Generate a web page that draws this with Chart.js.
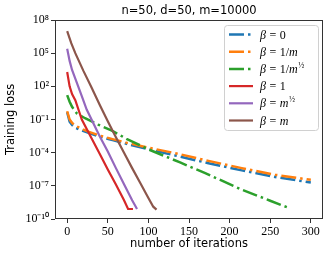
<!DOCTYPE html>
<html>
<head>
<meta charset="utf-8">
<script src="https://cdn.jsdelivr.net/npm/chart.js@4.4.1/dist/chart.umd.min.js"></script>
<style>
    html, body { margin: 0; padding: 0; background: #fff; }
    #wrap { width: 332px; height: 257px; }
</style>
</head>
<body>
<div id="wrap"><canvas id="loss-chart"></canvas></div>
<script>
const xTicks = [0, 50, 100, 150, 200, 250, 300];
const yTicks = [1e8, 1e5, 1e2, 1e-1, 1e-4, 1e-7, 1e-10];
const yTickLabels = ['10⁸', '10⁵', '10²', '10⁻¹', '10⁻⁴', '10⁻⁷', '10⁻¹⁰'];

const betaLabels = ['β = 0', 'β = 1/m', 'β = 1/m½', 'β = 1', 'β = m½', 'β = m'];
const betaColors = ['#1f77b4', '#ff7f0e', '#2ca02c', '#d62728', '#9467bd', '#8c564b'];

// beta = 0
const iterB0 = [0, 3, 6, 10, 18, 28, 40, 57, 73, 100, 133, 174, 215, 256, 300];
const lossB0 = [0.45, 6.3e-2, 3.2e-2, 1.8e-2, 1e-2, 5.6e-3, 2.8e-3, 1.3e-3, 6.3e-4, 2e-4, 5.6e-5, 1.1e-5, 2.5e-6, 6.3e-7, 2e-7];
// beta = 1/m
const iterB1 = [0, 3, 6, 10, 18, 26, 40, 57, 73, 100, 133, 174, 215, 256, 300];
const lossB1 = [0.56, 0.1, 5e-2, 2.8e-2, 1.4e-2, 8e-3, 3.5e-3, 1.6e-3, 8e-4, 2.8e-4, 9e-5, 1.8e-5, 4e-6, 1e-6, 3.5e-7];
// beta = 1/sqrt(m)
const iterB2 = [0, 3, 6, 12, 22, 38, 55, 73, 100, 139, 170, 215, 250, 273];
const lossB2 = [16, 4, 1.4, 0.35, 0.13, 3.5e-2, 1e-2, 1.8e-3, 2e-4, 1.3e-5, 1.4e-6, 4.5e-8, 4.5e-9, 1e-9];
// beta = 1
const iterB3 = [0, 3, 6, 10, 18, 30, 40, 50, 60, 70, 75, 81];
const lossB3 = [2e3, 1e2, 2e1, 5.6, 0.1, 2e-3, 8e-5, 3e-6, 1.3e-7, 5e-9, 8e-10, 8e-10];
// beta = sqrt(m)
const iterB4 = [0, 3, 6, 10, 18, 24, 30, 40, 50, 60, 70, 80, 86];
const lossB4 = [2.5e5, 2e4, 3e3, 5e2, 13, 0.8, 0.1, 3e-3, 1.3e-4, 4e-6, 1.4e-7, 5e-9, 8e-10];
// beta = m
const iterB5 = [0, 5, 10, 20, 30, 40, 50, 60, 70, 80, 90, 100, 106, 110];
const lossB5 = [1e7, 8e5, 1e5, 2.5e3, 80, 2.2, 7e-2, 2.5e-3, 1e-4, 4e-6, 1.8e-7, 8e-9, 1.3e-9, 7e-10];

const iters = [iterB0, iterB1, iterB2, iterB3, iterB4, iterB5];
const losses = [lossB0, lossB1, lossB2, lossB3, lossB4, lossB5];
const dashDot = [15, 4, 2.5, 4];

const lossChart = document.getElementById('loss-chart');

// math-ish label: beta and m italic, ½ as small superscript
function drawMathLabel(ctx, text, x, y) {
    let cx = x;
    for (const ch of text) {
        if (ch === ' ') { cx += 3.5; continue; }
        if (ch === '½') {
            ctx.font = '8px "Liberation Serif"';
            ctx.fillText('½', cx + 0.5, y - 4);
            cx += ctx.measureText('½').width + 0.5;
            continue;
        }
        ctx.font = (ch === 'β' || ch === 'm') ? 'italic 12px "Liberation Serif"' : '12px "Liberation Serif"';
        ctx.fillText(ch, cx, y);
        cx += ctx.measureText(ch).width;
    }
}

const frameAndLegend = {
    id: 'frameAndLegend',
    afterDraw(chart) {
        const ctx = chart.ctx;
        const a = chart.chartArea;
        ctx.save();
        ctx.strokeStyle = '#333';
        ctx.lineWidth = 1;
        ctx.strokeRect(a.left + 0.5, a.top + 0.5, a.right - a.left - 1, a.bottom - a.top - 1);

        ctx.fillStyle = '#000';
        ctx.font = '11.5px "DejaVu Sans"';
        ctx.textAlign = 'center';
        ctx.textBaseline = 'middle';
        ctx.fillText('n=50, d=50, m=10000', (a.left + a.right) / 2, 11);

        // legend box
        const bx = 224, by = 25, bw = 94, bh = 105;
        ctx.beginPath();
        ctx.roundRect(bx + 0.5, by + 0.5, bw, bh, 3);
        ctx.fillStyle = 'rgba(255,255,255,0.85)';
        ctx.fill();
        ctx.strokeStyle = '#d0d0d0';
        ctx.stroke();

        ctx.textAlign = 'left';
        ctx.textBaseline = 'middle';
        chart.data.datasets.forEach((ds, i) => {
            const y = by + 9.5 + i * 17.2;
            ctx.beginPath();
            ctx.strokeStyle = ds.borderColor;
            ctx.lineWidth = ds.borderWidth;
            ctx.lineCap = 'butt';
            ctx.setLineDash(ds.borderDash || []);
            ctx.moveTo(229, y);
            ctx.lineTo(253, y);
            ctx.stroke();
            ctx.setLineDash([]);
            ctx.fillStyle = '#000';
            drawMathLabel(ctx, ds.label, 260, y + 1);
        });
        ctx.restore();
    }
};

new Chart(lossChart, {
    type: 'line',
    data: {
        datasets: betaLabels.map((label, i) => ({
            label: label,
            data: iters[i].map((x, j) => ({ x: x, y: losses[i][j] })),
            borderColor: betaColors[i],
            backgroundColor: betaColors[i],
            borderWidth: i < 3 ? 2.5 : 2.2,
            borderDash: i < 3 ? dashDot : [],
            borderCapStyle: 'butt',
            pointRadius: 0,
            tension: 0,
            fill: false,
            order: -i
        }))
    },
    options: {
        responsive: true,
        maintainAspectRatio: false,
        animation: false,
        devicePixelRatio: 1,
        layout: {
            padding: { top: 20, right: 9, left: 0, bottom: 0 }
        },
        plugins: {
            legend: { display: false },
            tooltip: { enabled: false }
        },
        scales: {
            x: {
                type: 'linear',
                min: -15,
                max: 315,
                afterBuildTicks: (scale) => { scale.ticks = xTicks.map(v => ({ value: v })); },
                afterFit: (scale) => { scale.height = 38; },
                border: { display: false },
                grid: { drawOnChartArea: false, drawTicks: true, tickLength: 4, color: '#333' },
                ticks: {
                    color: '#000',
                    padding: 2,
                    maxRotation: 0,
                    font: { family: 'Liberation Serif', size: 12 }
                },
                title: {
                    display: true,
                    text: 'number of iterations',
                    color: '#000',
                    font: { family: 'DejaVu Sans', size: 11.5 },
                    padding: { top: 0, bottom: 6 }
                }
            },
            y: {
                type: 'logarithmic',
                min: 1e-10,
                max: 1e8,
                afterBuildTicks: (scale) => { scale.ticks = yTicks.map(v => ({ value: v })); },
                afterFit: (scale) => { scale.width = 55; },
                border: { display: false },
                grid: { drawOnChartArea: false, drawTicks: true, tickLength: 4, color: '#333' },
                ticks: {
                    color: '#000',
                    padding: 2,
                    font: { family: 'Liberation Serif', size: 12 },
                    callback: (value, index) => yTickLabels[index]
                },
                title: {
                    display: true,
                    text: 'Training loss',
                    color: '#000',
                    font: { family: 'DejaVu Sans', size: 11.5 },
                    padding: { top: 4, bottom: 0 }
                }
            }
        }
    },
    plugins: [frameAndLegend]
});
</script>
</body>
</html>
